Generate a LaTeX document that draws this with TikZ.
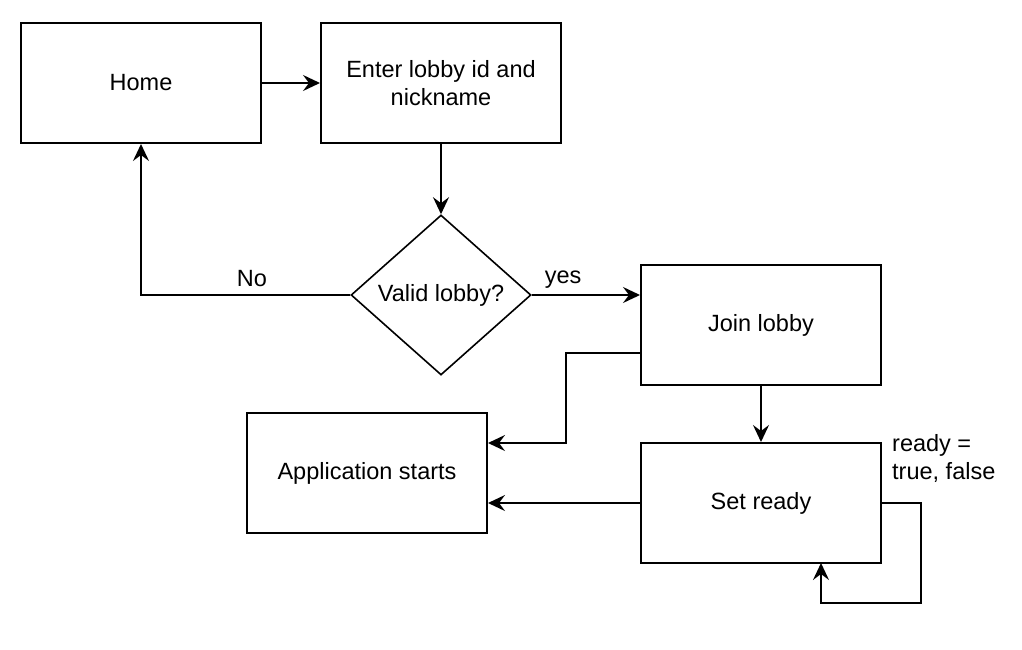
\documentclass[tikz,border=0pt]{standalone}
\usepackage{fontspec}
\setmainfont{Liberation Sans}
\usetikzlibrary{arrows.meta,shapes.geometric}
\begin{document}
\begin{tikzpicture}[x=1pt,y=-1pt,
  box/.style={draw,line width=2pt,minimum width=240pt,minimum height=120pt,align=center,inner sep=0pt},
  dec/.style={draw,line width=1.6pt,diamond,aspect=1.125,minimum width=180pt,minimum height=160pt,inner sep=0pt},
  conn/.style={line width=2pt,-{Stealth[length=17pt,width=16pt,inset=6pt]}},
  every node/.style={font=\fontsize{23.5}{28.5}\selectfont}]
\useasboundingbox (0,0) rectangle (1022,650);
\node[box] (home) at (141,83) {Home};
\node[box] (enter) at (441,83) {Enter lobby id and\\nickname};
\node[dec] (valid) at (441,295) {Valid lobby?};
\node[box] (join) at (761,325) {Join lobby};
\node[box] (app) at (367,473) {Application starts};
\node[box] (set) at (761,503) {Set ready};
\coordinate (loopA) at (921,603);
\draw[conn] (home.east) -- (enter.west);
\draw[conn] (enter.south) -- (valid.north);
\draw[conn] (valid.west) -- (141,295) node[pos=0.47,above,yshift=4pt] {No} -- (home.south);
\draw[conn] (valid.east) -- node[pos=0.29,above,yshift=2pt] {yes} (join.west |- valid.east);
\draw[conn] (join.west |- 0,353) -- (566,353) -- (566,443) -- (app.east |- 0,443);
\draw[conn] (join.south) -- (set.north);
\draw[conn] (set.west) -- (app.east |- set.west);
\draw[conn] (set.east) -- (loopA |- set.east) -- (loopA) -- (821,603) -- (821,563);
\node[anchor=north west,align=left,inner sep=0pt] (rlbl) at (892,434) {ready =\\true, false};
\end{tikzpicture}
\end{document}
